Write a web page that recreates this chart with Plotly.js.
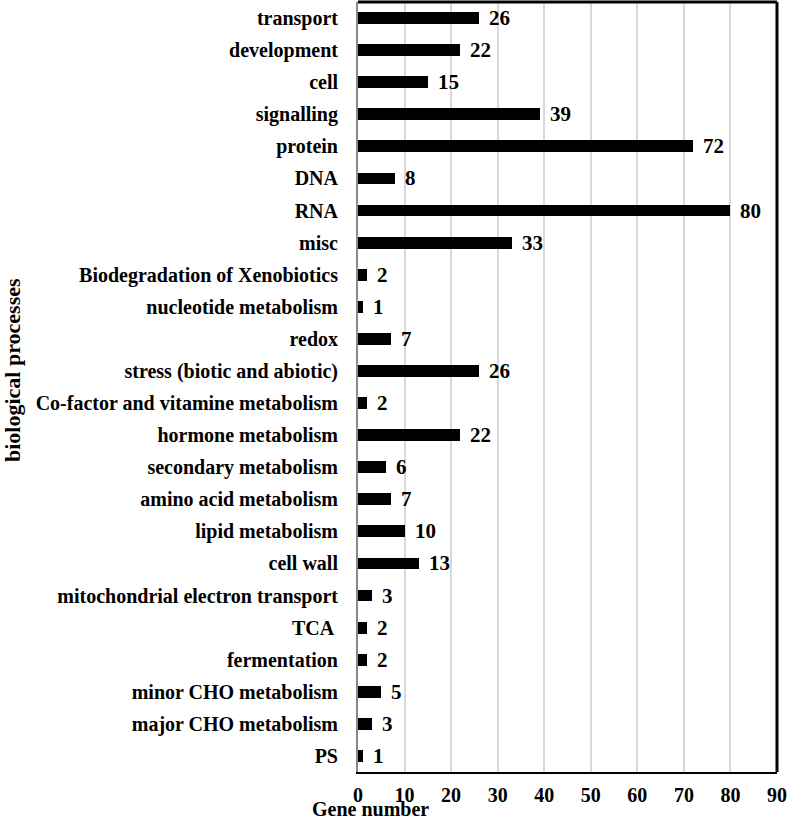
<!DOCTYPE html>
<html>
<head>
<meta charset="utf-8">
<script src="https://cdn.plot.ly/plotly-3.0.1.min.js"></script>
<style>html,body{margin:0;padding:0;background:#fff;}#chart{width:787px;height:816px;}</style>
</head>
<body>
<div id="chart"></div>
<script>
const categories = [
  "transport", "development", "cell", "signalling", "protein", "DNA", "RNA", "misc",
  "Biodegradation of Xenobiotics", "nucleotide metabolism", "redox",
  "stress (biotic and abiotic)", "Co-factor and vitamine metabolism",
  "hormone metabolism", "secondary metabolism", "amino acid metabolism",
  "lipid metabolism", "cell wall", "mitochondrial electron transport",
  "TCA ", "fermentation", "minor CHO metabolism", "major CHO metabolism", "PS"
];
const geneNumbers = [26, 22, 15, 39, 72, 8, 80, 33, 2, 1, 7, 26, 2, 22, 6, 7, 10, 13, 3, 2, 2, 5, 3, 1];
const xTicks = [0, 10, 20, 30, 40, 50, 60, 70, 80, 90];

const fontFam = "Liberation Serif, Times New Roman, serif";
const boldFont = {family: fontFam, size: 20, color: "#000", weight: "bold"};

const trace = {
  type: "bar",
  orientation: "h",
  x: geneNumbers,
  y: categories,
  width: 0.37,
  marker: {color: "#000"},
  hoverinfo: "none"
};

const valueLabels = categories.map((c, i) => ({
  x: geneNumbers[i], y: c, xref: "x", yref: "y",
  text: String(geneNumbers[i]), showarrow: false,
  xanchor: "left", xshift: 8, font: {family: fontFam, size: 21, color: "#000", weight: "bold"}
}));

const layout = {
  width: 787, height: 816,
  margin: {l: 358, r: 10, t: 2, b: 44},
  paper_bgcolor: "#fff", plot_bgcolor: "#fff",
  showlegend: false,
  bargap: 0,
  xaxis: {
    range: [0, 90], tickvals: xTicks, ticktext: xTicks.map(String),
    showgrid: true, gridcolor: "#d9d9d9", gridwidth: 2,
    zeroline: false, showline: true, linecolor: "#000", linewidth: 2,
    ticks: "", ticklabelstandoff: 4, tickfont: boldFont, fixedrange: true
  },
  yaxis: {
    type: "category", categoryorder: "array", categoryarray: categories,
    autorange: "reversed",
    showgrid: false, zeroline: false, showline: true, linecolor: "#8a8a8a", linewidth: 2,
    ticks: "", ticklabelstandoff: 14, tickfont: boldFont, fixedrange: true
  },
  shapes: [
    {type: "line", xref: "paper", yref: "paper", x0: 0, x1: 1, y0: 1, y1: 1, line: {color: "#000", width: 3}},
    {type: "line", xref: "paper", yref: "paper", x0: 1, x1: 1, y0: 0, y1: 1, line: {color: "#000", width: 3}}
  ],
  annotations: valueLabels.concat([
    {xref: "paper", yref: "paper", x: (12 - 358) / 419, y: (772 - 370) / 770,
     text: "biological processes", textangle: -90, showarrow: false,
     xanchor: "center", yanchor: "middle", font: {family: fontFam, size: 22, color: "#000", weight: "bold"}},
    {xref: "paper", yref: "paper", x: (370 - 358) / 419, y: (772 - 796) / 770,
     text: "Gene number", showarrow: false, xanchor: "center", yanchor: "top",
     font: boldFont}
  ])
};

Plotly.newPlot("chart", [trace], layout, {displayModeBar: false, staticPlot: true});
</script>
</body>
</html>
